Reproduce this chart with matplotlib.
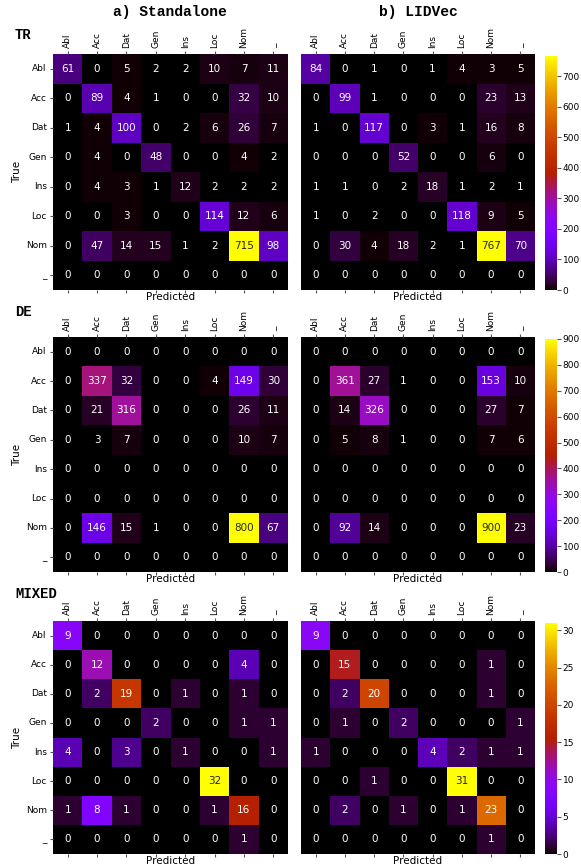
import numpy as np
import matplotlib
matplotlib.use('Agg')
import matplotlib.pyplot as plt
import seaborn as sns

labels = ['Abl', 'Acc', 'Dat', 'Gen', 'Ins', 'Loc', 'Nom', '_']

tr_standalone = [[61, 0, 5, 2, 2, 10, 7, 11],
                 [0, 89, 4, 1, 0, 0, 32, 10],
                 [1, 4, 100, 0, 2, 6, 26, 7],
                 [0, 4, 0, 48, 0, 0, 4, 2],
                 [0, 4, 3, 1, 12, 2, 2, 2],
                 [0, 0, 3, 0, 0, 114, 12, 6],
                 [0, 47, 14, 15, 1, 2, 715, 98],
                 [0, 0, 0, 0, 0, 0, 0, 0]]
tr_lidvec = [[84, 0, 1, 0, 1, 4, 3, 5],
             [0, 99, 1, 0, 0, 0, 23, 13],
             [1, 0, 117, 0, 3, 1, 16, 8],
             [0, 0, 0, 52, 0, 0, 6, 0],
             [1, 1, 0, 2, 18, 1, 2, 1],
             [1, 0, 2, 0, 0, 118, 9, 5],
             [0, 30, 4, 18, 2, 1, 767, 70],
             [0, 0, 0, 0, 0, 0, 0, 0]]

de_standalone = [[0, 0, 0, 0, 0, 0, 0, 0],
                 [0, 337, 32, 0, 0, 4, 149, 30],
                 [0, 21, 316, 0, 0, 0, 26, 11],
                 [0, 3, 7, 0, 0, 0, 10, 7],
                 [0, 0, 0, 0, 0, 0, 0, 0],
                 [0, 0, 0, 0, 0, 0, 0, 0],
                 [0, 146, 15, 1, 0, 0, 800, 67],
                 [0, 0, 0, 0, 0, 0, 0, 0]]
de_lidvec = [[0, 0, 0, 0, 0, 0, 0, 0],
             [0, 361, 27, 1, 0, 0, 153, 10],
             [0, 14, 326, 0, 0, 0, 27, 7],
             [0, 5, 8, 1, 0, 0, 7, 6],
             [0, 0, 0, 0, 0, 0, 0, 0],
             [0, 0, 0, 0, 0, 0, 0, 0],
             [0, 92, 14, 0, 0, 0, 900, 23],
             [0, 0, 0, 0, 0, 0, 0, 0]]

mixed_standalone = [[9, 0, 0, 0, 0, 0, 0, 0],
                    [0, 12, 0, 0, 0, 0, 4, 0],
                    [0, 2, 19, 0, 1, 0, 1, 0],
                    [0, 0, 0, 2, 0, 0, 1, 1],
                    [4, 0, 3, 0, 1, 0, 0, 1],
                    [0, 0, 0, 0, 0, 32, 0, 0],
                    [1, 8, 1, 0, 0, 1, 16, 0],
                    [0, 0, 0, 0, 0, 0, 1, 0]]
mixed_lidvec = [[9, 0, 0, 0, 0, 0, 0, 0],
                [0, 15, 0, 0, 0, 0, 1, 0],
                [0, 2, 20, 0, 0, 0, 1, 0],
                [0, 1, 0, 2, 0, 0, 0, 1],
                [1, 0, 0, 0, 4, 2, 1, 1],
                [0, 0, 1, 0, 0, 31, 0, 0],
                [0, 2, 0, 1, 0, 1, 23, 0],
                [0, 0, 0, 0, 0, 0, 1, 0]]

rows = [('TR', tr_standalone, tr_lidvec, 100),
        ('DE', de_standalone, de_lidvec, 100),
        ('MIXED', mixed_standalone, mixed_lidvec, 5)]

W, H = 581, 868
fig = plt.figure(figsize=(W / 100, H / 100), dpi=100)

def box(x0, y0, x1, y1):
    # pixel box (top-left origin) -> figure fraction
    return [x0 / W, 1 - y1 / H, (x1 - x0) / W, (y1 - y0) / H]

row_px = [(54, 290), (337, 572), (621, 854)]
name_y = [35, 312, 594]
mono = 'Liberation Mono'

for i, (name, left, right, step) in enumerate(rows):
    y0, y1 = row_px[i]
    ax_l = fig.add_axes(box(53, y0, 288, y1))
    ax_r = fig.add_axes(box(301, y0, 535, y1))
    cax = fig.add_axes(box(545, y0 + 2, 557, y1))

    # each matrix gets its own colour scale; only the right one shows a bar
    for ax, data, show_y in [(ax_l, left, True), (ax_r, right, False)]:
        sns.heatmap(np.array(data), ax=ax, cmap='gnuplot',
                    annot=True, fmt='d', annot_kws={'fontsize': 7.5},
                    xticklabels=labels, yticklabels=labels if show_y else False,
                    cbar=ax is ax_r, cbar_ax=cax if ax is ax_r else None)
        ax.tick_params(top=True, labeltop=True, bottom=True, labelbottom=False,
                       labelsize=6.5, length=2.5, color='#555555', pad=2)
        plt.setp(ax.get_xticklabels(), rotation=90)
        if show_y:
            plt.setp(ax.get_yticklabels(), rotation=0)
            ax.set_ylabel('True', fontsize=7.5, labelpad=3)
        ax.set_xlabel('Predicted', fontsize=7.5, labelpad=-1)

    cax.yaxis.set_major_locator(matplotlib.ticker.MultipleLocator(step))
    cax.tick_params(labelsize=6.5, length=3, color='#555555', pad=1)

    fig.text(15 / W, 1 - name_y[i] / H, name, fontfamily=mono,
             fontweight='bold', fontsize=10, va='center', ha='left')

fig.text(170 / W, 1 - 12 / H, 'a) Standalone', fontfamily=mono,
         fontweight='bold', fontsize=10.5, ha='center', va='center')
fig.text(418 / W, 1 - 12 / H, 'b) LIDVec', fontfamily=mono,
         fontweight='bold', fontsize=10.5, ha='center', va='center')

fig.savefig('out.png', dpi=100)
